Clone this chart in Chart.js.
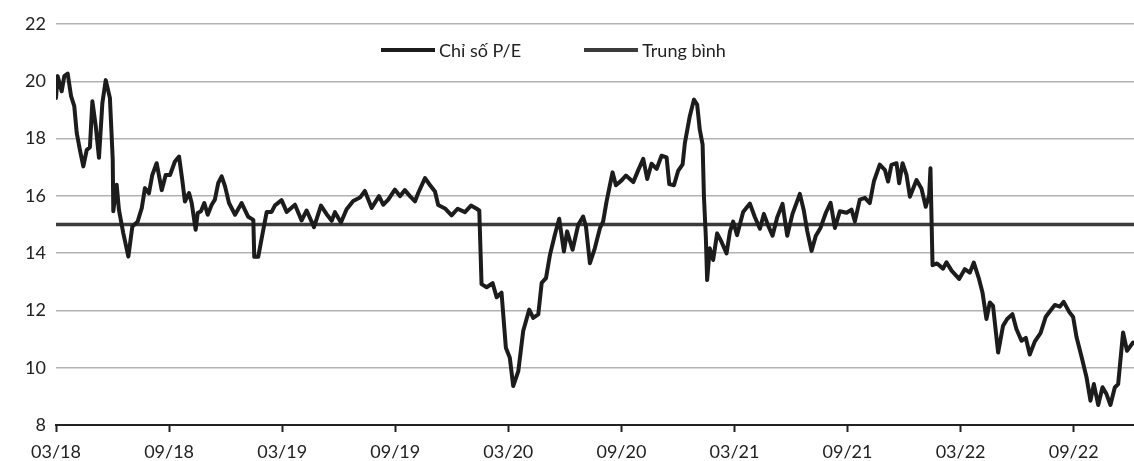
<!DOCTYPE html>
<html>
<head>
<meta charset="utf-8">
<script src="https://cdn.jsdelivr.net/npm/chart.js@4.4.1/dist/chart.umd.min.js"></script>
<style>
  html, body { margin: 0; padding: 0; background: #fff; }
  #wrap { position: relative; width: 1134px; height: 461px; }
  #legend { position: absolute; left: 381px; top: 40px; display: flex; font-family: Lato, sans-serif; font-size: 18px; line-height: 20px; color: #222; }
  #legend .item { display: flex; align-items: center; margin-right: 63px; }
  #legend .swatch { display: inline-block; width: 54px; margin-right: 4px; }
</style>
</head>
<body>
<div id="wrap">
  <canvas id="chart" width="1134" height="461"></canvas>
  <div id="legend"></div>
</div>
<script>
// trục hoành: số tháng kể từ 03/18
const tickLabels = ["03/18", "09/18", "03/19", "09/19", "03/20", "09/20", "03/21", "09/21", "03/22", "09/22"];

const peMonths = [
  0.00, 0.09, 0.30, 0.44, 0.62, 0.80, 0.97, 1.10, 1.27, 1.45, 1.63, 1.80, 1.93, 2.11, 2.28, 2.46, 2.64, 2.86, 3.01, 3.04,
  3.22, 3.34, 3.57, 3.84, 4.05, 4.33, 4.55, 4.72, 4.93, 5.11, 5.34, 5.61, 5.82, 6.05, 6.31, 6.53, 6.70, 6.84, 7.06, 7.20,
  7.41, 7.52, 7.69, 7.87, 8.05, 8.26, 8.43, 8.61, 8.79, 8.97, 9.18, 9.50, 9.85, 10.20, 10.47, 10.52, 10.73, 10.91, 11.18, 11.44,
  11.62, 11.97, 12.24, 12.68, 13.03, 13.30, 13.69, 14.06, 14.36, 14.63, 14.80, 15.12, 15.42, 15.77, 16.13, 16.39, 16.75, 17.14, 17.36, 17.63,
  17.98, 18.25, 18.51, 18.78, 19.05, 19.22, 19.58, 19.84, 20.11, 20.28, 20.64, 20.99, 21.31, 21.70, 22.02, 22.32, 22.46, 22.58, 22.85, 23.17,
  23.38, 23.64, 23.87, 24.08, 24.26, 24.53, 24.79, 25.11, 25.32, 25.59, 25.77, 26.00, 26.21, 26.47, 26.70, 26.95, 27.12, 27.41, 27.71, 27.97,
  28.12, 28.33, 28.59, 28.86, 29.03, 29.21, 29.39, 29.53, 29.71, 30.01, 30.24, 30.63, 30.89, 31.16, 31.37, 31.60, 31.87, 32.13, 32.40, 32.54,
  32.79, 33.01, 33.25, 33.37, 33.63, 33.85, 34.02, 34.16, 34.31, 34.38, 34.48, 34.55, 34.69, 34.87, 35.08, 35.31, 35.58, 35.76, 35.93, 36.14,
  36.46, 36.82, 37.08, 37.35, 37.56, 37.79, 38.02, 38.27, 38.55, 38.80, 39.08, 39.47, 39.68, 39.86, 40.09, 40.32, 40.57, 40.85, 41.10, 41.33,
  41.59, 41.95, 42.21, 42.39, 42.65, 42.92, 43.18, 43.40, 43.71, 43.98, 44.15, 44.33, 44.60, 44.74, 44.92, 45.13, 45.31, 45.66, 45.92, 46.15,
  46.33, 46.40, 46.51, 46.75, 47.07, 47.25, 47.52, 47.92, 48.22, 48.49, 48.70, 48.98, 49.16, 49.37, 49.55, 49.72, 49.99, 50.25, 50.47, 50.75,
  50.96, 51.23, 51.46, 51.67, 51.94, 52.24, 52.52, 52.73, 53.00, 53.26, 53.47, 53.76, 53.97, 54.15, 54.42, 54.68, 54.89, 55.07, 55.30, 55.53,
  55.74, 55.95, 56.18, 56.36, 56.62, 56.83, 57.15
];

const peValues = [
  19.42, 20.18, 19.65, 20.18, 20.27, 19.48, 19.13, 18.20, 17.60, 17.03, 17.60, 17.70, 19.30, 18.43, 17.33, 19.24, 20.04, 19.42, 17.27, 15.46,
  16.39, 15.51, 14.70, 13.88, 14.93, 15.10, 15.57, 16.27, 16.09, 16.73, 17.14, 16.20, 16.73, 16.73, 17.20, 17.37, 16.55, 15.80, 16.10, 15.75,
  14.82, 15.40, 15.46, 15.75, 15.34, 15.69, 15.87, 16.45, 16.68, 16.33, 15.75, 15.34, 15.75, 15.27, 15.16, 13.87, 13.87, 14.51, 15.44, 15.44,
  15.67, 15.85, 15.44, 15.69, 15.14, 15.49, 14.91, 15.66, 15.36, 15.13, 15.43, 15.07, 15.53, 15.82, 15.94, 16.17, 15.58, 15.99, 15.69, 15.87,
  16.22, 15.99, 16.20, 15.99, 15.81, 16.10, 16.62, 16.38, 16.15, 15.68, 15.56, 15.32, 15.55, 15.43, 15.66, 15.55, 15.49, 12.92, 12.81, 12.95,
  12.46, 12.62, 10.70, 10.35, 9.36, 9.88, 11.28, 12.03, 11.74, 11.86, 12.96, 13.13, 13.94, 14.64, 15.20, 14.06, 14.76, 14.12, 14.99, 15.28,
  14.93, 13.65, 14.17, 14.87, 15.10, 15.79, 16.37, 16.82, 16.37, 16.54, 16.71, 16.48, 16.89, 17.29, 16.59, 17.12, 16.94, 17.40, 17.34, 16.41,
  16.37, 16.87, 17.10, 17.85, 18.78, 19.36, 19.19, 18.31, 17.79, 15.98, 14.58, 13.06, 14.17, 13.76, 14.69, 14.40, 13.99, 14.75, 15.10, 14.63,
  15.44, 15.73, 15.26, 14.85, 15.37, 14.96, 14.61, 15.25, 15.72, 14.61, 15.37, 16.07, 15.49, 14.78, 14.08, 14.61, 14.89, 15.41, 15.76, 14.88,
  15.46, 15.41, 15.52, 15.11, 15.87, 15.93, 15.75, 16.51, 17.09, 16.91, 16.50, 17.08, 17.14, 16.44, 17.14, 16.73, 15.97, 16.55, 16.26, 15.62,
  16.02, 16.96, 13.58, 13.64, 13.46, 13.68, 13.39, 13.10, 13.44, 13.32, 13.67, 13.09, 12.63, 11.70, 12.28, 12.16, 10.53, 11.46, 11.70, 11.87,
  11.35, 10.94, 11.04, 10.46, 10.92, 11.21, 11.78, 11.96, 12.19, 12.13, 12.30, 11.95, 11.77, 11.07, 10.37, 9.67, 8.85, 9.43, 8.70, 9.32,
  9.08, 8.70, 9.31, 9.43, 11.23, 10.59, 10.88
];

const avgMonths = [0, 57.2];
const avgValues = [15.0, 15.0];

const toPoints = (xs, ys) => xs.map((x, i) => ({ x: x, y: ys[i] }));

const fontFamily = "Lato, 'Open Sans', sans-serif";

var ctx = document.getElementById("chart").getContext("2d");

var chart = new Chart(ctx, {
  type: "line",
  data: {
    datasets: [{
      label: "Chỉ số P/E",
      data: toPoints(peMonths, peValues),
      borderColor: "#1c1c1c",
      borderWidth: 4,
      pointRadius: 0,
      tension: 0,
      borderJoinStyle: "round",
      borderCapStyle: "round"
    }, {
      label: "Trung bình",
      data: toPoints(avgMonths, avgValues),
      borderColor: "#3b3b3b",
      borderWidth: 3.5,
      pointRadius: 0,
      tension: 0
    }]
  },
  options: {
    responsive: false,
    animation: false,
    layout: {
      padding: { top: 24, right: 0, bottom: 0, left: 0 }
    },
    plugins: {
      legend: { display: false },
      tooltip: { enabled: false }
    },
    scales: {
      x: {
        type: "linear",
        min: 0,
        max: 57.2,
        // một vạch cho mỗi nhãn, cách nhau 6 tháng
        afterBuildTicks: (s) => {
          s.ticks = tickLabels.map((lbl, i) => ({ value: i * 6 }));
        },
        afterFit: (s) => { s.height = 36; },
        grid: {
          drawOnChartArea: false,
          drawTicks: true,
          tickLength: 7,
          tickWidth: 2,
          tickColor: "#222"
        },
        border: { display: true, color: "#222", width: 2 },
        ticks: {
          autoSkip: false,
          maxRotation: 0,
          padding: 9,
          color: "#222",
          font: { family: fontFamily, size: 18 },
          callback: (v) => tickLabels[Math.round(v / 6)]
        }
      },
      y: {
        min: 8,
        max: 22,
        afterFit: (s) => { s.width = 56; },
        grid: {
          color: "rgba(0,0,0,0.3)",
          lineWidth: 1.5,
          drawTicks: false
        },
        border: { display: false },
        ticks: {
          stepSize: 2,
          padding: 10,
          color: "#222",
          font: { family: fontFamily, size: 18 }
        }
      }
    }
  }
});

// chú thích vẽ bằng HTML, lấy nhãn và màu từ datasets
var legendEl = document.getElementById("legend");
chart.data.datasets.forEach(function (ds) {
  var item = document.createElement("span");
  item.className = "item";
  var sw = document.createElement("span");
  sw.className = "swatch";
  sw.style.height = ds.borderWidth + "px";
  sw.style.background = ds.borderColor;
  var txt = document.createElement("span");
  txt.textContent = ds.label;
  item.appendChild(sw);
  item.appendChild(txt);
  legendEl.appendChild(item);
});
</script>
</body>
</html>
